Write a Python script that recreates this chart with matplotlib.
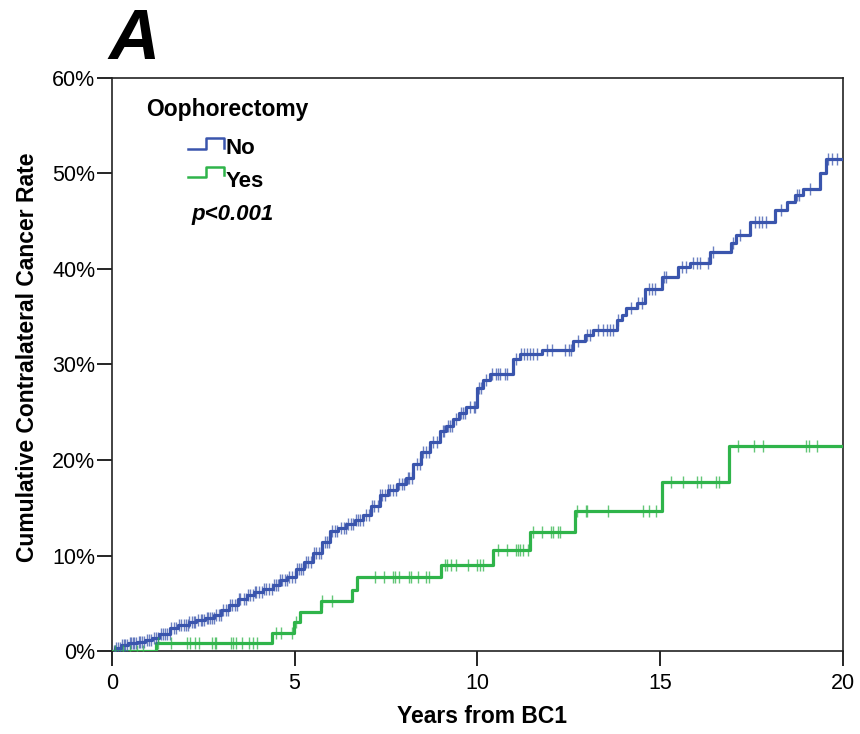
import numpy as np
import matplotlib.pyplot as plt

plt.rcParams['font.family'] = ['Liberation Sans', 'DejaVu Sans']

# Oophorectomy = No : cumulative contralateral cancer rate (%)
no_t = [0.0, 0.1, 0.25, 0.45, 0.7, 0.9, 1.1, 1.3, 1.6, 1.8, 2.1, 2.3, 2.55,
        2.8, 3.0, 3.2, 3.45, 3.7, 3.9, 4.15, 4.4, 4.6, 4.8, 5.05, 5.25, 5.5,
        5.75, 5.97, 6.2, 6.42, 6.65, 6.88, 7.1, 7.33, 7.55, 7.79, 8.06, 8.24,
        8.45, 8.7, 8.97, 9.15, 9.34, 9.5, 9.7, 10.0, 10.15, 10.34, 10.98,
        11.16, 11.76, 12.62, 12.94, 13.17, 13.81, 13.95, 14.08, 14.36, 14.58,
        15.04, 15.49, 15.81, 16.36, 16.95, 17.09, 17.46, 18.14, 18.46, 18.69,
        18.91, 19.37, 19.53]
no_v = [0.0, 0.3, 0.6, 0.8, 1.0, 1.2, 1.4, 1.8, 2.4, 2.7, 3.0, 3.2, 3.5,
        3.8, 4.3, 4.8, 5.4, 5.9, 6.2, 6.5, 6.9, 7.4, 7.8, 8.6, 9.3, 10.3,
        11.4, 12.6, 12.9, 13.3, 13.7, 14.2, 15.2, 16.3, 16.9, 17.5, 18.1, 19.6,
        20.8, 21.9, 23.0, 23.6, 24.3, 24.9, 25.5, 27.5, 28.4, 29.0, 30.6,
        31.1, 31.5, 32.5, 33.1, 33.6, 34.6, 35.2, 35.9, 36.4, 37.9,
        39.2, 40.2, 40.6, 41.8, 42.7, 43.5, 44.9, 46.2, 47.0, 47.7,
        48.4, 50.0, 51.5]

# Oophorectomy = Yes
yes_t = [0.0, 1.2, 4.37, 4.98, 5.14, 5.71, 6.57, 6.71, 9.02, 10.42, 11.44,
         12.68, 15.06, 16.88]
yes_v = [0.0, 0.8, 1.9, 3.0, 4.1, 5.2, 6.4, 7.7, 9.0, 10.6, 12.5, 14.7,
         17.7, 21.5]

# censored observations (years)
no_cens = [0.05, 0.09, 0.12, 0.18, 0.22, 0.27, 0.33, 0.37, 0.41, 0.5, 0.53,
           0.57, 0.62, 0.66, 0.74, 0.78, 0.83, 0.88, 0.95, 1.03, 1.08, 1.15,
           1.22, 1.27, 1.34, 1.41, 1.46, 1.5, 1.58, 1.63, 1.7, 1.77, 1.83,
           1.88, 1.97, 2.04, 2.08, 2.12, 2.2, 2.24, 2.28, 2.37, 2.43, 2.48,
           2.52, 2.6, 2.64, 2.68, 2.73, 2.79, 2.86, 2.93, 2.98, 3.04, 3.12,
           3.17, 3.23, 3.28, 3.36, 3.43, 3.48, 3.52, 3.61, 3.68, 3.73, 3.78,
           3.86, 3.91, 3.95, 4.02, 4.1, 4.17, 4.22, 4.3, 4.37, 4.43, 4.48,
           4.55, 4.6, 4.66, 4.74, 4.79, 4.85, 4.93, 5.0, 5.07, 5.11, 5.19,
           5.24, 5.3, 5.38, 5.44, 5.52, 5.58, 5.66, 5.72, 5.82, 5.9, 5.95,
           6.03, 6.1, 6.17, 6.27, 6.34, 6.4, 6.47, 6.55, 6.6, 6.68, 6.74, 6.8,
           6.86, 6.95, 7.04, 7.12, 7.18, 7.27, 7.35, 7.4, 7.47, 7.56, 7.62,
           7.7, 7.77, 7.85, 7.93, 8.0, 8.1, 8.13, 8.2, 8.35, 8.42, 8.52, 8.6,
           8.68, 8.8, 8.9, 9.05, 9.1, 9.2, 9.25, 9.32, 9.42, 9.55, 9.6, 9.67,
           9.8, 9.9, 9.95, 10.05, 10.1, 10.25, 10.4, 10.5, 10.57, 10.62,
           10.75, 10.82, 11.05, 11.2, 11.28, 11.36, 11.45, 11.52, 11.62, 11.9,
           12.05, 12.4, 12.5, 12.55, 12.75, 13.0, 13.07, 13.3, 13.45, 13.55,
           13.62, 13.7, 13.85, 14.2, 14.4, 14.5, 14.7, 14.78, 14.86, 15.1,
           15.17, 15.6, 15.7, 15.9, 16.0, 16.1, 16.3, 16.45, 17.0, 17.2,
           17.6, 17.7, 17.78, 17.9, 18.3, 18.75, 18.8, 19.1, 19.6, 19.7,
           19.85]
yes_cens = [0.1, 0.3, 0.5, 0.7, 0.85, 1.27, 1.63, 2.06, 2.15, 2.27, 2.38,
            2.74, 2.82, 2.86, 3.25, 3.32, 3.41, 3.55, 3.76, 3.86, 3.96, 4.5,
            4.64, 4.92, 5.05, 5.74, 6.03, 7.2, 7.45, 7.68, 7.76, 7.86, 8.13,
            8.18, 8.38, 8.59, 8.67, 9.11, 9.18, 9.27, 9.41, 9.75, 10.0,
            10.07, 10.16, 10.57, 10.8, 11.07, 11.12, 11.18, 11.25, 11.39,
            11.53, 11.78, 12.01, 12.07, 12.22, 12.26, 12.74, 12.97, 13.01,
            13.58, 14.54, 14.69, 14.9, 15.31, 15.63, 16.01, 16.13, 16.52,
            16.62, 17.14, 17.57, 17.82, 19.0, 19.08, 19.3]

blue = '#3a55ad'
green = '#2fb44a'


def step_value(times, vals, x):
    idx = np.searchsorted(times, x, side='right') - 1
    return np.asarray(vals)[idx]


fig = plt.figure(figsize=(8.6, 7.34), dpi=100)
ax = fig.add_axes([0.130, 0.113, 0.850, 0.781])

for t, v, cens, col in [(no_t, no_v, no_cens, blue),
                        (yes_t, yes_v, yes_cens, green)]:
    tt = list(t) + [20.0]
    vv = list(v) + [v[-1]]
    ax.step(tt, vv, where='post', color=col, lw=2.3, zorder=3)
    cy = step_value(t, v, np.array(cens))
    ax.plot(cens, cy, linestyle='none', marker='|', markersize=9,
            markeredgewidth=1.0, color=col, alpha=0.75, zorder=4)

ax.set_xlim(0, 20)
ax.set_ylim(0, 60)
ax.set_xticks([0, 5, 10, 15, 20])
ax.set_yticks(range(0, 61, 10))
ax.set_yticklabels([f"{v}%" for v in range(0, 61, 10)])
ax.tick_params(direction='out', length=10.5, width=1.2, labelsize=15.5)
ax.tick_params(axis='x', pad=5)
ax.tick_params(axis='y', pad=1.5)
for s in ax.spines.values():
    s.set_linewidth(1.2)
    s.set_color('#222222')

fig.text(0.560, 0.024, "Years from BC1", fontsize=16.5, fontweight='bold',
         ha='center', va='center')
fig.text(0.032, 0.513, "Cumulative Contralateral Cancer Rate", fontsize=16.5,
         fontweight='bold', rotation=90, ha='center', va='center')

# legend block
ax.text(0.0475, 0.9325, "Oophorectomy", transform=ax.transAxes,
        fontsize=16.5, fontweight='bold', va='baseline', ha='left')
for lo, hi, base, col, lab in [(0.8761, 0.8948, 0.8674, blue, "No"),
                               (0.8277, 0.8452, 0.8092, green, "Yes")]:
    lx = [0.104, 0.1286, 0.1286, 0.1532, 0.1532]
    ly = [lo, lo, hi, hi, lo + 0.002]
    ax.plot(lx, ly, transform=ax.transAxes, color=col, lw=1.8, clip_on=False)
    ax.text(0.1555, base, lab, transform=ax.transAxes, fontsize=16,
            fontweight='bold', va='baseline', ha='left')
ax.text(0.109, 0.7522, "p<0.001", transform=ax.transAxes, fontsize=16,
        fontweight='bold', fontstyle='italic', va='baseline', ha='left')

fig.text(0.126, 0.919, "A", fontsize=51, fontweight='bold',
         fontstyle='italic', ha='left', va='baseline')

fig.savefig("out.png", dpi=100)
